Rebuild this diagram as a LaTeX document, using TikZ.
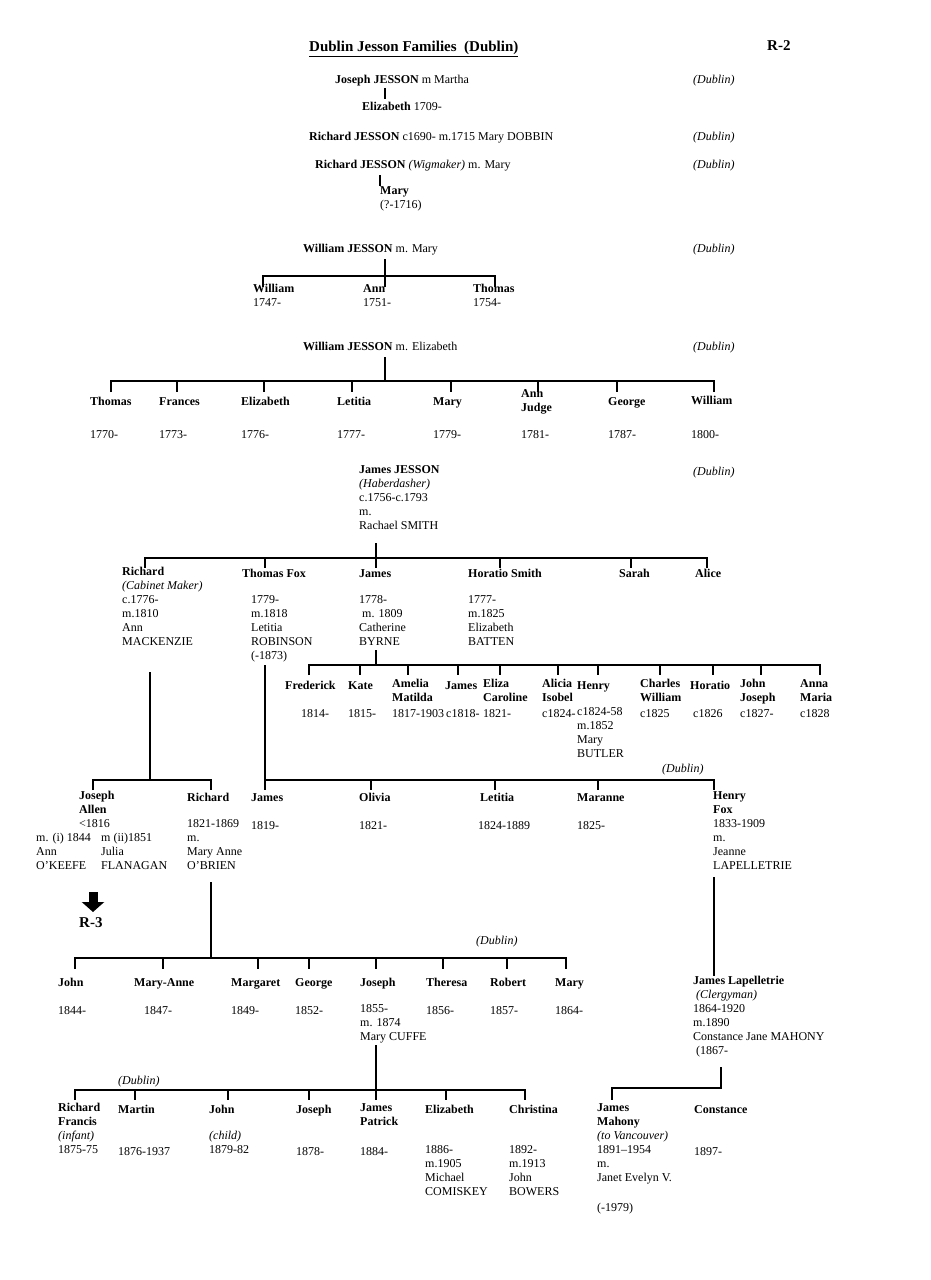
\documentclass[tikz,border=0pt]{standalone}
\usepackage{fontspec}
\setmainfont{Liberation Serif}
\usepackage{tikz}
\usetikzlibrary{arrows.meta}

\begin{document}
\begin{tikzpicture}[
  x=1pt,y=-1pt,
  every node/.style={font=\fontsize{12}{14}\selectfont},
  entry/.style={anchor=north west,inner sep=0pt,align=left,execute at begin node=\strut},
  place/.style={entry,font=\fontsize{12}{14}\selectfont\itshape},
  heading/.style={entry,font=\fontsize{15}{18}\selectfont\bfseries},
  tree/.style={line width=1.3pt},
  bigarrow/.style={line width=9pt,-{Triangle[width=22pt,length=10pt]},shorten >=3pt}
]
\useasboundingbox (0,0) rectangle (931,1280);

% heading
\node[heading] (title) at (309,39) {\underline{Dublin Jesson Families\ \ (Dublin)}};
\node[heading] (rtwo) at (767,38) {R-2};

% places
\node[place] (pl1) at (693,73) {(Dublin)};
\node[place] (pl2) at (693,130) {(Dublin)};
\node[place] (pl3) at (693,158) {(Dublin)};
\node[place] (pl4) at (693,242) {(Dublin)};
\node[place] (pl5) at (693,340) {(Dublin)};
\node[place] (pl6) at (693,465) {(Dublin)};
\node[place] (pl7) at (662,762) {(Dublin)};
\node[place] (pl8) at (476,934) {(Dublin)};
\node[place] (pl9) at (118,1074) {(Dublin)};

% early families
\node[entry] (joseph) at (335,73) {\textbf{Joseph JESSON} m Martha};
\node[entry] (elizabeth) at (362,100) {\textbf{Elizabeth} 1709-};
\node[entry] (richdobbin) at (309,130) {\textbf{Richard JESSON} c1690- m.1715 Mary DOBBIN};
\node[entry] (richwig) at (315,158) {\textbf{Richard JESSON} \textit{(Wigmaker)} m. Mary};
\node[entry] (marywig) at (380,186) {\textbf{Mary}\\(?-1716)};
\coordinate (josephtick) at (385,88);
\coordinate (wigtick) at (380,175);
\draw[tree,shorten >=1pt] (josephtick) -- (josephtick |- elizabeth.north);
\draw[tree] (wigtick) -- (wigtick |- marywig.north);

% William m. Mary
\node[entry] (wmary) at (303,242) {\textbf{William JESSON} m. Mary};
\node[entry] (wm1) at (253,284) {\textbf{William}\\1747-};
\node[entry] (wm2) at (363,284) {\textbf{Ann}\\1751-};
\node[entry] (wm3) at (473,284) {\textbf{Thomas}\\1754-};
\coordinate (wmtop) at (385,259);
\coordinate (wmlow) at (0,287);
\coordinate (wmd1) at (263,276);
\coordinate (wmd3) at (495,276);
\draw[tree] (wmtop) -- (wmtop |- wmlow);
\draw[tree] (wmd1 |- wmlow) -- (wmd1) -- (wmd3) -- (wmd3 |- wmlow);

% William m. Elizabeth
\node[entry] (welz) at (303,340) {\textbf{William JESSON} m. Elizabeth};
\node[entry] (we1) at (90,395) {\textbf{Thomas}};
\node[entry] (we2) at (159,395) {\textbf{Frances}};
\node[entry] (we3) at (241,395) {\textbf{Elizabeth}};
\node[entry] (we4) at (337,395) {\textbf{Letitia}};
\node[entry] (we5) at (433,395) {\textbf{Mary}};
\node[entry] (we6) at (521,389) {\textbf{Ann}\\\textbf{Judge}};
\node[entry] (we7) at (608,395) {\textbf{George}};
\node[entry] (we8) at (691,394) {\textbf{William}};
\node[entry] (wed1) at (90,428) {1770-};
\node[entry] (wed2) at (159,428) {1773-};
\node[entry] (wed3) at (241,428) {1776-};
\node[entry] (wed4) at (337,428) {1777-};
\node[entry] (wed5) at (433,428) {1779-};
\node[entry] (wed6) at (521,428) {1781-};
\node[entry] (wed7) at (608,428) {1787-};
\node[entry] (wed8) at (691,428) {1800-};
\coordinate (weltop) at (385,357);
\coordinate (wellow) at (0,392);
\coordinate (wel1) at (111,381);
\coordinate (wel2) at (177,381);
\coordinate (wel3) at (264,381);
\coordinate (wel4) at (352,381);
\coordinate (wel5) at (451,381);
\coordinate (wel6) at (538,381);
\coordinate (wel7) at (617,381);
\coordinate (wel8) at (714,381);
\draw[tree] (weltop) -- (weltop |- wel1);
\draw[tree] (wel1 |- wellow) -- (wel1) -- (wel8) -- (wel8 |- wellow);
\draw[tree] (wel2) -- (wel2 |- wellow) (wel3) -- (wel3 |- wellow) (wel4) -- (wel4 |- wellow);
\draw[tree] (wel5) -- (wel5 |- wellow) (wel6) -- (wel6 |- wellow) (wel7) -- (wel7 |- wellow);

% James JESSON m. Rachael SMITH
\node[entry] (james) at (359,465) {\textbf{James JESSON}\\\textit{(Haberdasher)}\\c.1756-c.1793\\m.\\Rachael SMITH};
\node[entry] (js1) at (122,567) {\textbf{Richard}\\\textit{(Cabinet Maker)}\\c.1776-\\m.1810\\Ann\\MACKENZIE};
\node[entry] (js2) at (242,567) {\textbf{Thomas Fox}};
\node[entry] (js3) at (359,567) {\textbf{James}};
\node[entry] (js4) at (468,567) {\textbf{Horatio Smith}};
\node[entry] (js5) at (619,567) {\textbf{Sarah}};
\node[entry] (js6) at (695,567) {\textbf{Alice}};
\node[entry] (jsd2) at (251,595) {1779-\\m.1818\\Letitia\\ROBINSON\\(-1873)};
\node[entry] (jsd3) at (359,595) {1778-\\\hspace*{3pt}m. 1809\\Catherine\\BYRNE};
\node[entry] (jsd4) at (468,595) {1777-\\m.1825\\Elizabeth\\BATTEN};
\coordinate (jamestop) at (376,543);
\coordinate (jameslow) at (0,568);
\coordinate (jsl1) at (145,558);
\coordinate (jsl2) at (265,558);
\coordinate (jsl4) at (500,558);
\coordinate (jsl5) at (631,558);
\coordinate (jsl6) at (707,558);
\draw[tree] (jamestop) -- (jamestop |- jameslow);
\draw[tree] (jsl1 |- jameslow) -- (jsl1) -- (jsl6) -- (jsl6 |- jameslow);
\draw[tree] (jsl2) -- (jsl2 |- jameslow) (jsl4) -- (jsl4 |- jameslow) (jsl5) -- (jsl5 |- jameslow);

% James m. Catherine BYRNE
\node[entry] (jc1) at (285,679) {\textbf{Frederick}};
\node[entry] (jc2) at (348,679) {\textbf{Kate}};
\node[entry] (jc3) at (392,679) {\textbf{Amelia}\\\textbf{Matilda}};
\node[entry] (jc4) at (445,679) {\textbf{James}};
\node[entry] (jc5) at (483,679) {\textbf{Eliza}\\\textbf{Caroline}};
\node[entry] (jc6) at (542,679) {\textbf{Alicia}\\\textbf{Isobel}};
\node[entry] (jc7) at (577,679) {\textbf{Henry}};
\node[entry] (jc8) at (640,679) {\textbf{Charles}\\\textbf{William}};
\node[entry] (jc9) at (690,679) {\textbf{Horatio}};
\node[entry] (jc10) at (740,679) {\textbf{John}\\\textbf{Joseph}};
\node[entry] (jc11) at (800,679) {\textbf{Anna}\\\textbf{Maria}};
\node[entry] (jcd1) at (301,707) {1814-};
\node[entry] (jcd2) at (348,707) {1815-};
\node[entry] (jcd3) at (392,707) {1817-1903};
\node[entry] (jcd4) at (446,707) {c1818-};
\node[entry] (jcd5) at (483,707) {1821-};
\node[entry] (jcd6) at (542,707) {c1824-};
\node[entry] (jcd7) at (577,707) {c1824-58\\m.1852\\Mary\\BUTLER};
\node[entry] (jcd8) at (640,707) {c1825};
\node[entry] (jcd9) at (693,707) {c1826};
\node[entry] (jcd10) at (740,707) {c1827-};
\node[entry] (jcd11) at (800,707) {c1828};
\coordinate (jctop) at (376,650);
\coordinate (jclow) at (0,675);
\coordinate (jcl1) at (309,665);
\coordinate (jcl2) at (360,665);
\coordinate (jcl3) at (408,665);
\coordinate (jcl4) at (458,665);
\coordinate (jcl5) at (500,665);
\coordinate (jcl6) at (558,665);
\coordinate (jcl7) at (598,665);
\coordinate (jcl8) at (660,665);
\coordinate (jcl9) at (713,665);
\coordinate (jcl10) at (761,665);
\coordinate (jcl11) at (820,665);
\draw[tree] (jctop) -- (jctop |- jcl1);
\draw[tree] (jcl1 |- jclow) -- (jcl1) -- (jcl11) -- (jcl11 |- jclow);
\draw[tree] (jcl2) -- (jcl2 |- jclow) (jcl3) -- (jcl3 |- jclow) (jcl4) -- (jcl4 |- jclow);
\draw[tree] (jcl5) -- (jcl5 |- jclow) (jcl6) -- (jcl6 |- jclow) (jcl7) -- (jcl7 |- jclow);
\draw[tree] (jcl8) -- (jcl8 |- jclow) (jcl9) -- (jcl9 |- jclow) (jcl10) -- (jcl10 |- jclow);

% Richard m. Ann MACKENZIE
\node[entry] (rc1) at (79,791) {\textbf{Joseph}\\\textbf{Allen}\\<1816};
\node[entry] (rcm1) at (36,833) {m. (i) 1844\\Ann\\O’KEEFE};
\node[entry] (rcm2) at (101,833) {m (ii)1851\\Julia\\FLANAGAN};
\node[entry] (rc2) at (187,791) {\textbf{Richard}};
\node[entry] (rcd2) at (187,819) {1821-1869\\m.\\Mary Anne\\O’BRIEN};
\node[heading] (rthree) at (79,915) {R-3};
\coordinate (rctop) at (150,672);
\coordinate (rclow) at (0,790);
\coordinate (rcl1) at (93,780);
\coordinate (rcl2) at (211,780);
\coordinate (arrtop) at (93,892);
\draw[tree] (rctop) -- (rctop |- rcl1);
\draw[tree] (rcl1 |- rclow) -- (rcl1) -- (rcl2) -- (rcl2 |- rclow);
\draw[bigarrow] (arrtop) -- (arrtop |- rthree.north);

% Thomas Fox m. Letitia ROBINSON
\node[entry] (tc1) at (251,791) {\textbf{James}};
\node[entry] (tc2) at (359,791) {\textbf{Olivia}};
\node[entry] (tc3) at (480,791) {\textbf{Letitia}};
\node[entry] (tc4) at (577,791) {\textbf{Maranne}};
\node[entry] (tc5) at (713,791) {\textbf{Henry}\\\textbf{Fox}\\1833-1909\\m.\\Jeanne\\LAPELLETRIE};
\node[entry] (tcd1) at (251,819) {1819-};
\node[entry] (tcd2) at (359,819) {1821-};
\node[entry] (tcd3) at (478,819) {1824-1889};
\node[entry] (tcd4) at (577,819) {1825-};
\coordinate (tctop) at (265,665);
\coordinate (tclow) at (0,790);
\coordinate (tcl1) at (265,780);
\coordinate (tcl2) at (371,780);
\coordinate (tcl3) at (495,780);
\coordinate (tcl4) at (598,780);
\coordinate (tcl5) at (714,780);
\draw[tree] (tctop) -- (tctop |- tclow);
\draw[tree] (tcl1) -- (tcl5) -- (tcl5 |- tclow);
\draw[tree] (tcl2) -- (tcl2 |- tclow) (tcl3) -- (tcl3 |- tclow) (tcl4) -- (tcl4 |- tclow);

% Richard m. Mary Anne O'BRIEN
\node[entry] (oc1) at (58,976) {\textbf{John}};
\node[entry] (oc2) at (134,976) {\textbf{Mary-Anne}};
\node[entry] (oc3) at (231,976) {\textbf{Margaret}};
\node[entry] (oc4) at (295,976) {\textbf{George}};
\node[entry] (oc5) at (360,976) {\textbf{Joseph}};
\node[entry] (oc6) at (426,976) {\textbf{Theresa}};
\node[entry] (oc7) at (490,976) {\textbf{Robert}};
\node[entry] (oc8) at (555,976) {\textbf{Mary}};
\node[entry] (ocd1) at (58,1004) {1844-};
\node[entry] (ocd2) at (144,1004) {1847-};
\node[entry] (ocd3) at (231,1004) {1849-};
\node[entry] (ocd4) at (295,1004) {1852-};
\node[entry] (ocd5) at (360,1004) {1855-\\m. 1874\\Mary CUFFE};
\node[entry] (ocd6) at (426,1004) {1856-};
\node[entry] (ocd7) at (490,1004) {1857-};
\node[entry] (ocd8) at (555,1004) {1864-};
\coordinate (octop) at (211,882);
\coordinate (oclow) at (0,969);
\coordinate (ocl1) at (75,958);
\coordinate (ocl2) at (163,958);
\coordinate (ocl3) at (258,958);
\coordinate (ocl4) at (309,958);
\coordinate (ocl5) at (376,958);
\coordinate (ocl6) at (443,958);
\coordinate (ocl7) at (507,958);
\coordinate (ocl8) at (566,958);
\draw[tree] (octop) -- (octop |- ocl1);
\draw[tree] (ocl1 |- oclow) -- (ocl1) -- (ocl8) -- (ocl8 |- oclow);
\draw[tree] (ocl2) -- (ocl2 |- oclow) (ocl3) -- (ocl3 |- oclow) (ocl4) -- (ocl4 |- oclow);
\draw[tree] (ocl5) -- (ocl5 |- oclow) (ocl6) -- (ocl6 |- oclow) (ocl7) -- (ocl7 |- oclow);

% Henry Fox m. Jeanne LAPELLETRIE
\node[entry] (hc1) at (693,976) {\textbf{James Lapelletrie}\\\hspace*{3pt}\textit{(Clergyman)}\\1864-1920\\m.1890\\Constance Jane MAHONY\\\hspace*{3pt}(1867-};
\coordinate (hctop) at (714,877);
\draw[tree] (hctop) -- (hctop |- hc1.north);

% Joseph m. Mary CUFFE
\node[entry] (cc1) at (58,1103) {\textbf{Richard}\\\textbf{Francis}\\\textit{(infant)}\\1875-75};
\node[entry] (cc2) at (118,1103) {\textbf{Martin}};
\node[entry] (cc3) at (209,1103) {\textbf{John}};
\node[entry] (cc4) at (296,1103) {\textbf{Joseph}};
\node[entry] (cc5) at (360,1103) {\textbf{James}\\\textbf{Patrick}};
\node[entry] (cc6) at (425,1103) {\textbf{Elizabeth}};
\node[entry] (cc7) at (509,1103) {\textbf{Christina}};
\node[entry] (ccd2) at (118,1145) {1876-1937};
\node[entry] (ccd3) at (209,1131) {\textit{(child)}\\1879-82};
\node[entry] (ccd4) at (296,1145) {1878-};
\node[entry] (ccd5) at (360,1145) {1884-};
\node[entry] (ccd6) at (425,1145) {1886-\\m.1905\\Michael\\COMISKEY};
\node[entry] (ccd7) at (509,1145) {1892-\\m.1913\\John\\BOWERS};
\coordinate (cctop) at (376,1045);
\coordinate (cclow) at (0,1100);
\coordinate (ccl1) at (75,1090);
\coordinate (ccl2) at (135,1090);
\coordinate (ccl3) at (228,1090);
\coordinate (ccl4) at (309,1090);
\coordinate (ccl6) at (446,1090);
\coordinate (ccl7) at (525,1090);
\draw[tree] (cctop) -- (cctop |- cclow);
\draw[tree] (ccl1 |- cclow) -- (ccl1) -- (ccl7) -- (ccl7 |- cclow);
\draw[tree] (ccl2) -- (ccl2 |- cclow) (ccl3) -- (ccl3 |- cclow) (ccl4) -- (ccl4 |- cclow);
\draw[tree] (ccl6) -- (ccl6 |- cclow);

% James Lapelletrie m. Constance Jane MAHONY
\node[entry] (lc1) at (597,1103) {\textbf{James}\\\textbf{Mahony}\\\textit{(to Vancouver)}\\1891–1954\\m.\\Janet Evelyn V.};
\node[entry] (lcd1) at (597,1201) {(-1979)};
\node[entry] (lc2) at (694,1103) {\textbf{Constance}};
\node[entry] (lcd2) at (694,1145) {1897-};
\coordinate (lctop) at (721,1067);
\coordinate (lcl1) at (612,1088);
\coordinate (lcl2) at (721,1088);
\draw[tree] (lctop) -- (lcl2) -- (lcl1) -- (lcl1 |- cclow);
\end{tikzpicture}
\end{document}
